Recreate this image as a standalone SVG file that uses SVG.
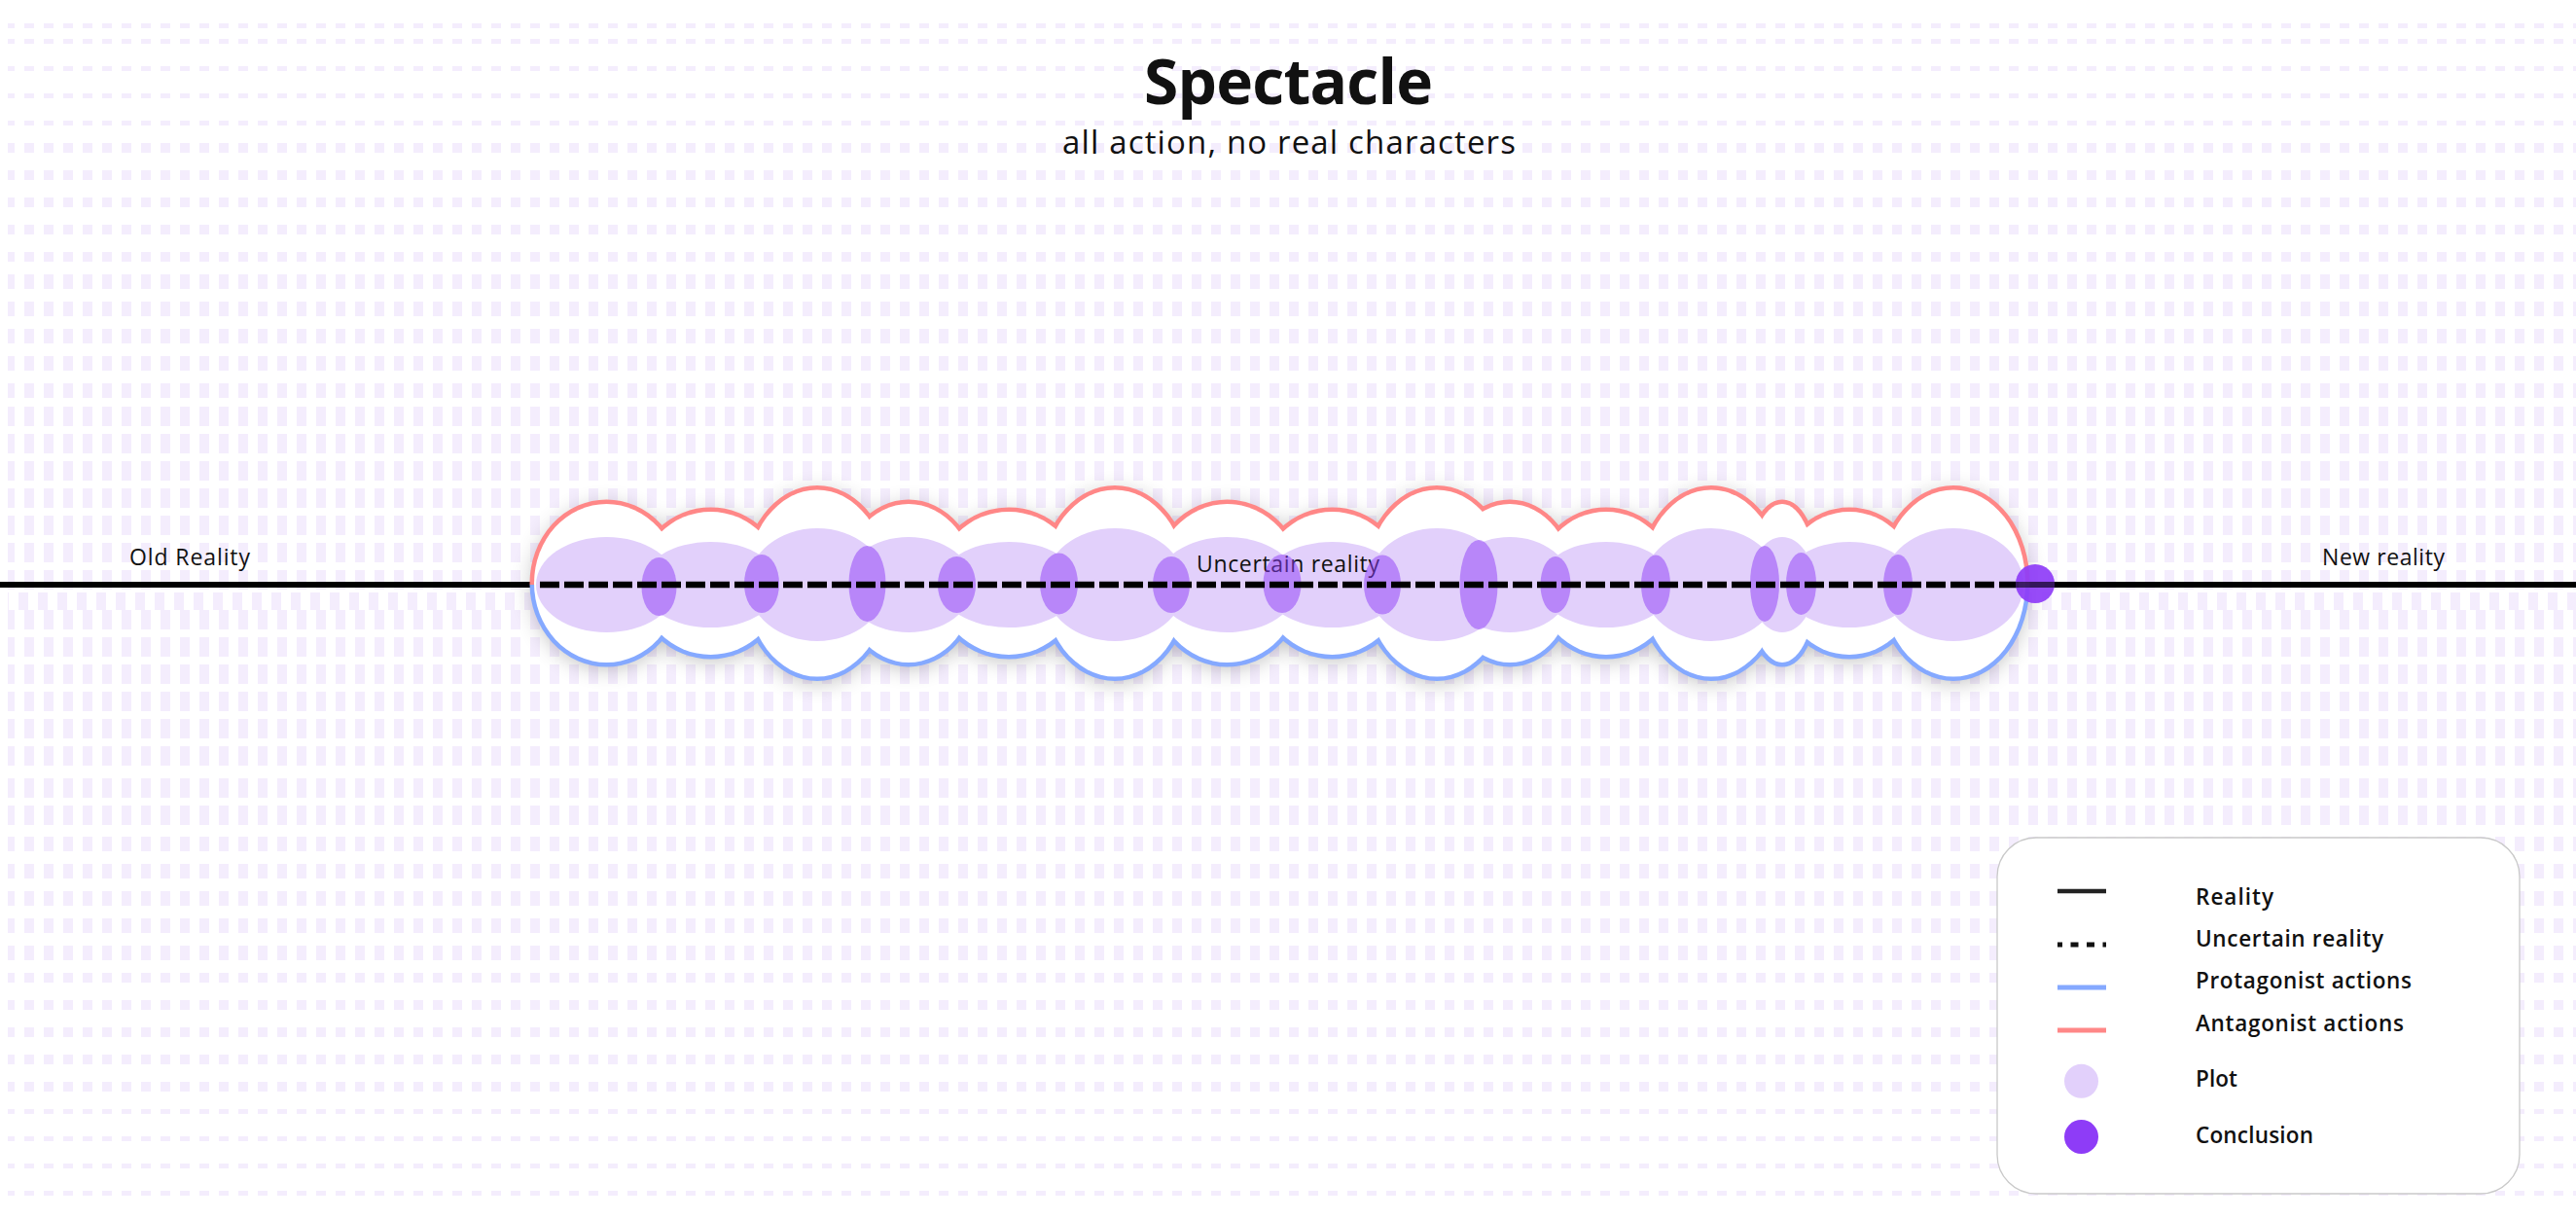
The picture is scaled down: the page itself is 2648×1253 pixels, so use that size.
<svg xmlns="http://www.w3.org/2000/svg" xmlns:xlink="http://www.w3.org/1999/xlink" width="2648" height="1253" viewBox="0 0 2648 1253">
<style>
  .t { font-family: "Open Sans", "Liberation Sans", sans-serif; fill: #111111; }
  .lbl { font-size: 23px; font-weight: 500; }
  .leg { font-size: 22.5px; font-weight: 600; }
  .plot { fill: #E2D0FB; }
  .lens { fill: #8E3CF7; fill-opacity: 0.5; }
</style>
<defs>
  <pattern id="bg5" x="5" y="0" width="20" height="28" patternUnits="userSpaceOnUse"><rect width="10" height="5" fill="#F4EDFD"/></pattern>
  <pattern id="bg10" x="5" y="0" width="20" height="28" patternUnits="userSpaceOnUse"><rect width="10" height="10" fill="#F4EDFD"/></pattern>
  <pattern id="bg15" x="5" y="0" width="20" height="28" patternUnits="userSpaceOnUse"><rect width="10" height="15" fill="#F4EDFD"/></pattern>
  <pattern id="bg20" x="5" y="0" width="20" height="28" patternUnits="userSpaceOnUse"><rect width="10" height="20" fill="#F4EDFD"/></pattern>
  <filter id="shadow" x="-10%" y="-60%" width="120%" height="220%"><feGaussianBlur stdDeviation="12"/></filter>
  <clipPath id="topHalf"><rect x="0" y="0" width="2648" height="601"/></clipPath>
  <clipPath id="botHalf"><rect x="0" y="601" width="2648" height="652"/></clipPath>
  <clipPath id="concClip"><circle cx="2092" cy="600" r="20"/></clipPath>
  <g id="outer">
    <ellipse cx="623.5" cy="599.5" rx="74.5" ry="81.5"/>
    <ellipse cx="730.5" cy="599.5" rx="73" ry="73.5"/>
    <ellipse cx="840" cy="599.5" rx="73" ry="96"/>
    <ellipse cx="934" cy="599.5" rx="68" ry="81.5"/>
    <ellipse cx="1037" cy="599.5" rx="74" ry="73.5"/>
    <ellipse cx="1146" cy="599.5" rx="74" ry="96"/>
    <ellipse cx="1261.5" cy="599.5" rx="75" ry="81.5"/>
    <ellipse cx="1369.5" cy="599.5" rx="73" ry="73.5"/>
    <ellipse cx="1477" cy="599.5" rx="73" ry="96"/>
    <ellipse cx="1552" cy="599.5" rx="65" ry="81.5"/>
    <ellipse cx="1651" cy="599.5" rx="71" ry="73.5"/>
    <ellipse cx="1759" cy="599.5" rx="72" ry="96"/>
    <ellipse cx="1832" cy="599.5" rx="35" ry="81.5"/>
    <ellipse cx="1901" cy="599.5" rx="70" ry="73.5"/>
    <ellipse cx="2008" cy="599.5" rx="74" ry="96"/>
  </g>
</defs>

<g id="background">
  <rect x="0" y="0" width="2648" height="1253" fill="#FFFFFF"/>
  <rect transform="translate(0,24)" x="8" y="0" width="2640" height="5" fill="url(#bg5)"/>
  <rect transform="translate(0,40)" x="8" y="0" width="2640" height="89" fill="url(#bg5)"/>
  <rect transform="translate(0,147)" x="8" y="0" width="2640" height="122" fill="url(#bg10)"/>
  <rect transform="translate(0,282)" x="8" y="0" width="2640" height="127" fill="url(#bg15)"/>
  <rect transform="translate(0,418)" x="8" y="0" width="2640" height="188" fill="url(#bg20)"/>
  <rect transform="translate(-6,609)" x="14" y="0" width="2640" height="18" fill="url(#bg20)"/>
  <rect transform="translate(0,627)" x="8" y="0" width="2640" height="160" fill="url(#bg20)"/>
  <rect transform="translate(0,800)" x="8" y="0" width="2640" height="48" fill="url(#bg20)"/>
  <rect transform="translate(0,860)" x="8" y="0" width="2640" height="127" fill="url(#bg15)"/>
  <rect transform="translate(0,1000)" x="8" y="0" width="2640" height="122" fill="url(#bg10)"/>
  <rect transform="translate(0,1140)" x="8" y="0" width="2640" height="89" fill="url(#bg5)"/>
</g>

<g id="title">
  <text class="t" x="1324.5" y="107" text-anchor="middle" font-size="64" font-weight="700" textLength="297">Spectacle</text>
  <text class="t" x="1325" y="158" text-anchor="middle" font-size="33" font-weight="400" textLength="466">all action, no real characters</text>
</g>

<g id="connectors">
  <line id="reality-line" x1="0" y1="601" x2="2648" y2="601" stroke="#000000" stroke-width="6"/>
</g>

<g id="spectacle-cloud">
  <use xlink:href="#outer" href="#outer" fill="#000000" opacity="0.3" filter="url(#shadow)" transform="translate(0,4)"/>
  <use xlink:href="#outer" href="#outer" fill="none" stroke="#FF8787" stroke-width="9" clip-path="url(#topHalf)"/>
  <use xlink:href="#outer" href="#outer" fill="none" stroke="#85A9FF" stroke-width="9" clip-path="url(#botHalf)"/>
  <use xlink:href="#outer" href="#outer" fill="#FFFFFF" stroke="none"/>
</g>

<g id="plots">
  <ellipse class="plot" cx="623.5" cy="601" rx="72.5" ry="49"/>
  <ellipse class="plot" cx="730.5" cy="601" rx="71" ry="44"/>
  <ellipse class="plot" cx="840" cy="601" rx="71" ry="58"/>
  <ellipse class="plot" cx="934" cy="601" rx="66" ry="49"/>
  <ellipse class="plot" cx="1037" cy="601" rx="72" ry="44"/>
  <ellipse class="plot" cx="1146" cy="601" rx="72" ry="58"/>
  <ellipse class="plot" cx="1261.5" cy="601" rx="73" ry="49"/>
  <ellipse class="plot" cx="1369.5" cy="601" rx="71" ry="44"/>
  <ellipse class="plot" cx="1477" cy="601" rx="71" ry="58"/>
  <ellipse class="plot" cx="1552" cy="601" rx="63" ry="49"/>
  <ellipse class="plot" cx="1651" cy="601" rx="69" ry="44"/>
  <ellipse class="plot" cx="1759" cy="601" rx="70" ry="58"/>
  <ellipse class="plot" cx="1832" cy="601" rx="33" ry="49"/>
  <ellipse class="plot" cx="1901" cy="601" rx="68" ry="44"/>
  <ellipse class="plot" cx="2008" cy="601" rx="72" ry="58"/>
</g>

<g id="label-uncertain">
  <text class="t lbl" x="1230" y="588" textLength="188">Uncertain reality</text>
</g>

<g id="plot-intersections">
  <ellipse class="lens" cx="677.5" cy="603" rx="18" ry="30"/>
  <ellipse class="lens" cx="783" cy="600" rx="18" ry="30"/>
  <ellipse class="lens" cx="891.5" cy="600" rx="19" ry="39"/>
  <ellipse class="lens" cx="983.5" cy="601" rx="19.5" ry="29"/>
  <ellipse class="lens" cx="1088.5" cy="600" rx="19.5" ry="31.5"/>
  <ellipse class="lens" cx="1204" cy="601" rx="19" ry="29"/>
  <ellipse class="lens" cx="1318" cy="600" rx="19.5" ry="30"/>
  <ellipse class="lens" cx="1421" cy="601" rx="19" ry="30.5"/>
  <ellipse class="lens" cx="1520" cy="601" rx="19.5" ry="46"/>
  <ellipse class="lens" cx="1599" cy="601" rx="15.5" ry="29"/>
  <ellipse class="lens" cx="1702" cy="601" rx="15" ry="30.5"/>
  <ellipse class="lens" cx="1814" cy="600" rx="15" ry="39"/>
  <ellipse class="lens" cx="1851.5" cy="600" rx="15.5" ry="32"/>
  <ellipse class="lens" cx="1951" cy="601" rx="15" ry="31"/>
</g>

<g id="connectors-uncertain">
  <line id="uncertain-line" x1="555" y1="601" x2="2080" y2="601" stroke="#000000" stroke-width="6.5" stroke-dasharray="20 5"/>
</g>

<g id="conclusion">
  <circle cx="2092" cy="600" r="20" fill="#8E3CF7" fill-opacity="0.92"/>
  <line x1="2070" y1="601" x2="2114" y2="601" stroke="#000000" stroke-opacity="0.6" stroke-width="6" clip-path="url(#concClip)"/>
</g>

<g id="label-old">
  <text class="t lbl" x="133" y="581" textLength="124">Old Reality</text>
</g>
<g id="label-new">
  <text class="t lbl" x="2387" y="581" textLength="126">New reality</text>
</g>

<g id="legend">
  <rect x="2053" y="861" width="537" height="366" rx="40" ry="40" fill="#FFFFFF" stroke="#C9C9C9" stroke-width="1.3"/>
  <line x1="2115" y1="916" x2="2165" y2="916" stroke="#222222" stroke-width="4.5"/>
  <line x1="2115" y1="971" x2="2165" y2="971" stroke="#111111" stroke-width="5" stroke-dasharray="8 8.5" stroke-dashoffset="3"/>
  <line x1="2115" y1="1015" x2="2165" y2="1015" stroke="#85A9FF" stroke-width="5"/>
  <line x1="2115" y1="1059" x2="2165" y2="1059" stroke="#FF8787" stroke-width="5"/>
  <circle cx="2139.5" cy="1111.3" r="17.5" fill="#E2D0FB"/>
  <circle cx="2139.5" cy="1168.5" r="17.5" fill="#8E3CF7"/>
  <text class="t leg" x="2257" y="930" textLength="80">Reality</text>
  <text class="t leg" x="2257" y="972.7" textLength="193">Uncertain reality</text>
  <text class="t leg" x="2257" y="1016" textLength="222">Protagonist actions</text>
  <text class="t leg" x="2257" y="1060" textLength="214">Antagonist actions</text>
  <text class="t leg" x="2257" y="1117.3" textLength="43">Plot</text>
  <text class="t leg" x="2257" y="1175" textLength="121">Conclusion</text>
</g>
</svg>
